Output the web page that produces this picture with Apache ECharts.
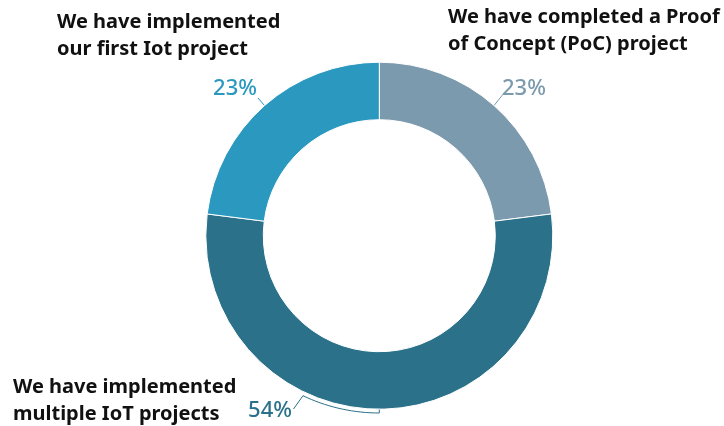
<!DOCTYPE html>
<html>
<head>
<meta charset="utf-8">
<style>
  html, body { margin: 0; padding: 0; background: #ffffff; }
  #chart { width: 724px; height: 426px; }
</style>
<script src="https://cdn.jsdelivr.net/npm/echarts@6/dist/echarts.min.js"></script>
</head>
<body>
<div id="chart"></div>
<script>
// Survey answers: stage of IoT adoption
const categories = [
  'We have completed a Proof\nof Concept (PoC) project',
  'We have implemented\nmultiple IoT projects',
  'We have implemented\nour first Iot project'
];
const shares = [23, 54, 23];
const colors = ['#7b9aae', '#2a7189', '#2a98bf'];

// Ring geometry (px)
const CX = 379.3, CY = 235.7, R_OUT = 173.5, R_IN = 116;

// Where each percentage and its category caption sit
const pctPlace = [
  { x: 502, y: 89, align: 'left' },
  { x: 292, y: 411, align: 'right' },
  { x: 257, y: 89, align: 'right' }
];
const namePlace = [
  { left: 448, top: 4 },
  { left: 13, top: 374 },
  { left: 57, top: 9 }
];

// Leader line for each percentage label
function leader(i, start) {
  if (i === 0) return [start, [504, 93]];
  if (i === 2) return [start, [258, 98]];
  // bracket running along the outside of the ring, then down to the label
  const r = 177.3;
  const pts = [start, [CX, CY + r]];
  for (let a = 0; a <= 26.8; a += 1.5) {
    const t = a * Math.PI / 180;
    pts.push([CX - r * Math.sin(t), CY + r * Math.cos(t)]);
  }
  pts.push([293.5, 409]);
  return pts;
}

const chart = echarts.init(document.getElementById('chart'), null, { renderer: 'canvas' });

chart.setOption({
  animation: false,
  backgroundColor: '#ffffff',
  color: colors,
  series: [{
    type: 'pie',
    center: [CX, CY],
    radius: [R_IN, R_OUT],
    startAngle: 90,
    clockwise: true,
    silent: true,
    itemStyle: { borderColor: '#ffffff', borderWidth: 1 },
    data: shares.map((v, i) => ({
      value: v,
      name: categories[i],
      label: { color: colors[i] },
      labelLine: { lineStyle: { color: colors[i] } }
    })),
    label: {
      show: true,
      position: 'outside',
      formatter: '{c}%',
      fontFamily: 'Noto Sans',
      fontSize: 22,
      fontWeight: 500
    },
    labelLine: {
      show: true,
      length: 8,
      length2: 4,
      lineStyle: { width: 1 }
    },
    labelLayout: function (p) {
      const i = p.dataIndex;
      const pl = pctPlace[i];
      const out = { x: pl.x, y: pl.y, align: pl.align, verticalAlign: 'middle' };
      if (p.labelLinePoints) out.labelLinePoints = leader(i, p.labelLinePoints[0]);
      return out;
    }
  }],
  graphic: categories.map((name, i) => ({
    type: 'text',
    left: namePlace[i].left,
    top: namePlace[i].top,
    silent: true,
    style: {
      text: name,
      fill: '#111111',
      font: 'bold 20px "Noto Sans"',
      lineHeight: 27
    }
  }))
});
</script>
</body>
</html>
